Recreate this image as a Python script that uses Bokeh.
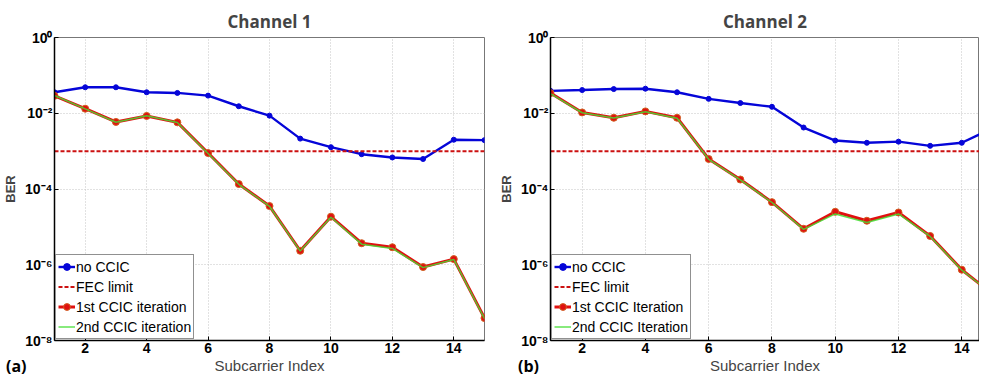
from bokeh.plotting import figure
from bokeh.models import Range1d, FixedTicker, Legend, LegendItem, Div
from bokeh.layouts import row
from bokeh.embed import file_html
from bokeh.resources import INLINE

# ---------------- data ----------------
subcarrier = list(range(1, 16))
x_ticks = [2, 4, 6, 8, 10, 12, 14]
y_ticks = [1e-8, 1e-6, 1e-4, 1e-2, 1.0]
y_tick_labels = ["10\u207b\u2078", "10\u207b\u2076", "10\u207b\u2074", "10\u207b\u00b2", "10\u2070"]
fec_limit = 1e-3

ch1_no_ccic = [3.58e-2, 4.85e-2, 4.85e-2, 3.58e-2, 3.44e-2, 2.92e-2, 1.53e-2, 8.65e-3,
               2.14e-3, 1.27e-3, 8.3e-4, 6.8e-4, 6.2e-4, 2.0e-3, 1.95e-3]
ch1_iter1 = [2.88e-2, 1.32e-2, 5.9e-3, 8.5e-3, 5.75e-3, 8.9e-4, 1.35e-4, 3.55e-5,
             2.34e-6, 1.86e-5, 3.7e-6, 2.9e-6, 8.7e-7, 1.41e-6, 3.9e-8]
ch1_iter2 = [2.95e-2, 1.30e-2, 5.8e-3, 8.6e-3, 5.7e-3, 8.7e-4, 1.33e-4, 3.5e-5,
             2.3e-6, 1.8e-5, 3.5e-6, 2.7e-6, 8.4e-7, 1.38e-6, 3.8e-8]

ch2_no_ccic = [3.9e-2, 4.1e-2, 4.35e-2, 4.45e-2, 3.58e-2, 2.4e-2, 1.86e-2, 1.48e-2,
               4.2e-3, 1.9e-3, 1.66e-3, 1.78e-3, 1.38e-3, 1.66e-3, 4.1e-3]
ch2_iter1 = [3.4e-2, 1.05e-2, 7.6e-3, 1.12e-2, 7.6e-3, 6.2e-4, 1.78e-4, 4.5e-5,
             8.9e-6, 2.5e-5, 1.45e-5, 2.4e-5, 5.75e-6, 7.4e-7, 1.62e-7]
ch2_iter2 = [3.3e-2, 1.03e-2, 7.5e-3, 1.1e-2, 7.4e-3, 6.1e-4, 1.75e-4, 4.4e-5,
             8.6e-6, 2.2e-5, 1.3e-5, 2.2e-5, 5.6e-6, 7.2e-7, 1.6e-7]

ch1_labels = ["no CCIC", "FEC limit", "1st CCIC iteration", "2nd CCIC iteration"]
ch2_labels = ["no CCIC", "FEC limit", "1st CCIC Iteration", "2nd CCIC Iteration"]
panel_tags = ["(a)", "(b)"]

BLUE = "#0505d8"
RED = "#e01010"
GREEN = "#44dd33"
TICK_FONT = "'Liberation Sans', Arial, sans-serif"
NARROW_FONT = "'Liberation Sans Narrow', 'Liberation Sans', sans-serif"


def make_panel(title, blue, red, green, labels, width, x_end, b_left, b_right, t_off):
    p = figure(width=width, height=378, output_backend="svg", toolbar_location=None,
               y_axis_type="log", x_range=Range1d(1, x_end), y_range=Range1d(1e-8, 1.0),
               min_border_left=b_left, min_border_right=b_right,
               min_border_top=37, min_border_bottom=38)
    p.title.text = title
    p.title.align = "center"
    p.title.offset = t_off
    p.title.text_font = "'Open Sans', sans-serif"
    p.title.text_font_style = "bold"
    p.title.text_font_size = "17px"
    p.title.standoff = 10

    p.outline_line_color = "#777777"
    p.outline_line_width = 1
    p.background_fill_color = "white"
    p.border_fill_color = "white"

    p.xaxis.ticker = FixedTicker(ticks=x_ticks)
    p.yaxis.ticker = FixedTicker(ticks=y_ticks, minor_ticks=[])
    p.yaxis.major_label_overrides = dict(zip(y_ticks, y_tick_labels))
    for ax in (p.xaxis[0], p.yaxis[0]):
        ax.axis_line_color = "black"
        ax.axis_line_width = 1.5
        ax.major_tick_in = 4
        ax.major_tick_out = 0
        ax.minor_tick_line_color = None
        ax.major_tick_line_color = "black"
        ax.major_label_text_font = TICK_FONT
        ax.major_label_text_font_style = "bold"
        ax.major_label_text_font_size = "14px"
        ax.major_label_text_color = "black"
        ax.major_label_standoff = 2
    p.yaxis.axis_label = "BER"
    p.yaxis.axis_label_text_font = TICK_FONT
    p.yaxis.axis_label_text_font_style = "bold"
    p.yaxis.axis_label_text_font_size = "13px"
    p.yaxis.axis_label_standoff = 4
    p.xaxis.axis_label = "Subcarrier Index"
    p.xaxis.axis_label_text_font = NARROW_FONT
    p.xaxis.axis_label_text_font_style = "normal"
    p.xaxis.axis_label_text_font_size = "15px"
    p.xaxis.axis_label_standoff = 1

    p.xgrid.ticker = FixedTicker(ticks=x_ticks)
    p.ygrid.ticker = FixedTicker(ticks=y_ticks)
    for g in (p.xgrid[0], p.ygrid[0]):
        g.grid_line_color = "#c4c4c4"
        g.grid_line_dash = "1 2"
        g.grid_line_width = 1

    l_blue = p.line(subcarrier, blue, line_color=BLUE, line_width=2.4)
    s_blue = p.scatter(subcarrier, blue, marker="circle", size=5, fill_color=BLUE, line_color=BLUE)
    l_fec = p.line([1, 15], [fec_limit, fec_limit], line_color="#cc1111", line_width=2,
                   line_dash="4 2")
    l_red = p.line(subcarrier, red, line_color=RED, line_width=3)
    s_red = p.scatter(subcarrier, red, marker="circle", size=7, fill_color=RED,
                      line_color="#d06020", line_width=1)
    l_green = p.line(subcarrier, green, line_color=GREEN, line_width=1.5, line_alpha=0.85)

    legend = Legend(items=[
        LegendItem(label=labels[0], renderers=[l_blue, s_blue]),
        LegendItem(label=labels[1], renderers=[l_fec]),
        LegendItem(label=labels[2], renderers=[l_red, s_red]),
        LegendItem(label=labels[3], renderers=[l_green]),
    ], location="bottom_left")
    legend.margin = 1
    legend.padding = 2
    legend.spacing = 1
    legend.label_height = 19
    legend.glyph_height = 19
    legend.glyph_width = 17
    legend.label_standoff = 1
    legend.label_text_font = TICK_FONT
    legend.label_text_font_size = "14px"
    legend.label_text_color = "black"
    legend.border_line_color = "#222222"
    legend.border_line_width = 1.5
    legend.background_fill_color = "white"
    legend.background_fill_alpha = 1
    p.add_layout(legend, "center")
    return p


p1 = make_panel("Channel 1", ch1_no_ccic, ch1_iter1, ch1_iter2, ch1_labels,
                width=492, x_end=15, b_left=41, b_right=8, t_off=-10)
p2 = make_panel("Channel 2", ch2_no_ccic, ch2_iter1, ch2_iter2, ch2_labels,
                width=487, x_end=14.56, b_left=58, b_right=0, t_off=0)


def tag_div(text, left):
    return Div(text=text, width=30, height=22,
               styles={"position": "absolute", "left": f"{left}px", "top": "350px",
                       "font-family": "'Open Sans', sans-serif", "font-weight": "bold",
                       "font-size": "16px", "color": "black"})


tag_a = tag_div(panel_tags[0], 1)
tag_b = tag_div(panel_tags[1], 513)

layout = row(p1, p2, tag_a, tag_b)
open("out.html", "w").write(file_html(layout, INLINE))
